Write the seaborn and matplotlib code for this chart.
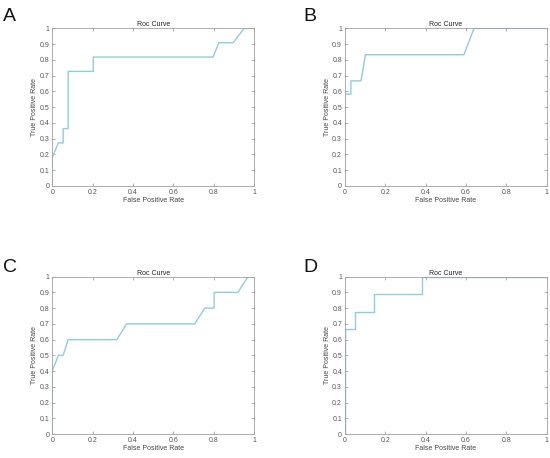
import matplotlib
matplotlib.use("Agg")
import matplotlib.pyplot as plt
import seaborn as sns
import pandas as pd

# ROC curves
fpr_a = [0, 0, 0.03, 0.054, 0.054, 0.079, 0.079, 0.203, 0.203, 0.797, 0.825, 0.896, 0.95, 1.0]
tpr_a = [0, 0.182, 0.273, 0.273, 0.364, 0.364, 0.727, 0.727, 0.818, 0.818, 0.909, 0.909, 1.0, 1.0]

fpr_b = [0, 0, 0.03, 0.03, 0.08, 0.102, 0.59, 0.64, 1.0]
tpr_b = [0, 0.583, 0.583, 0.667, 0.667, 0.833, 0.833, 1.0, 1.0]

fpr_c = [0, 0, 0.03, 0.054, 0.079, 0.32, 0.368, 0.706, 0.755, 0.802, 0.802, 0.92, 0.97, 1.0]
tpr_c = [0, 0.4, 0.5, 0.5, 0.6, 0.6, 0.7, 0.7, 0.8, 0.8, 0.9, 0.9, 1.0, 1.0]

fpr_d = [0, 0, 0.05, 0.05, 0.145, 0.145, 0.383, 0.383, 1.0]
tpr_d = [0, 0.667, 0.667, 0.778, 0.778, 0.889, 0.889, 1.0, 1.0]

panels = ["A", "B", "C", "D"]
x_ticks = [0, 0.2, 0.4, 0.6, 0.8, 1]
y_ticks = [0, 0.1, 0.2, 0.3, 0.4, 0.5, 0.6, 0.7, 0.8, 0.9, 1]

sns.set_style("white")
plt.rcParams['font.family'] = ['Liberation Sans', 'DejaVu Sans']

fig = plt.figure(figsize=(5.5, 4.58), dpi=100)

# axes boxes in figure fractions: left, bottom, width, height
boxes = [
    [0.095, 0.594, 0.367, 0.344],
    [0.627, 0.594, 0.367, 0.344],
    [0.095, 0.052, 0.367, 0.344],
    [0.627, 0.052, 0.367, 0.344],
]
letter_pos = [(0.005, 0.982), (0.552, 0.982), (0.005, 0.434), (0.552, 0.434)]
curves = [(fpr_a, tpr_a), (fpr_b, tpr_b), (fpr_c, tpr_c), (fpr_d, tpr_d)]

grey = "#8c8c8c"
for box, (fpr, tpr), letter, (lx, ly) in zip(boxes, curves, panels, letter_pos):
    ax = fig.add_axes(box)
    df = pd.DataFrame({"fpr": fpr, "tpr": tpr})
    sns.lineplot(data=df, x="fpr", y="tpr", sort=False, estimator=None,
                 color="#8ccfdc", linewidth=1.0, ax=ax)
    ax.set_xlim(0, 1)
    ax.set_ylim(0, 1)
    ax.set_xticks(x_ticks)
    ax.set_yticks(y_ticks)
    ax.set_xticklabels(["0", "0.2", "0.4", "0.6", "0.8", "1"])
    ax.set_yticklabels(["0", "0.1", "0.2", "0.3", "0.4", "0.5", "0.6", "0.7", "0.8", "0.9", "1"])
    ax.tick_params(direction="in", length=2, width=0.5, colors=grey,
                   labelsize=5, labelcolor="#555555", top=True, right=True,
                   bottom=True, left=True, pad=2)
    for s in ax.spines.values():
        s.set_color("#a0a0a0")
        s.set_linewidth(0.6)
    ax.set_xlabel("False Positive Rate", fontsize=5.0, color="#444444", labelpad=1)
    ax.set_ylabel("True Positive Rate", fontsize=5.0, color="#444444", labelpad=1)
    ax.set_title("Roc Curve", fontsize=5.0, color="#222222", pad=1.5)
    fig.text(lx, ly, letter, fontsize=14, ha="left", va="top", color="#111111")

fig.savefig("out.png", dpi=100, facecolor="white")
